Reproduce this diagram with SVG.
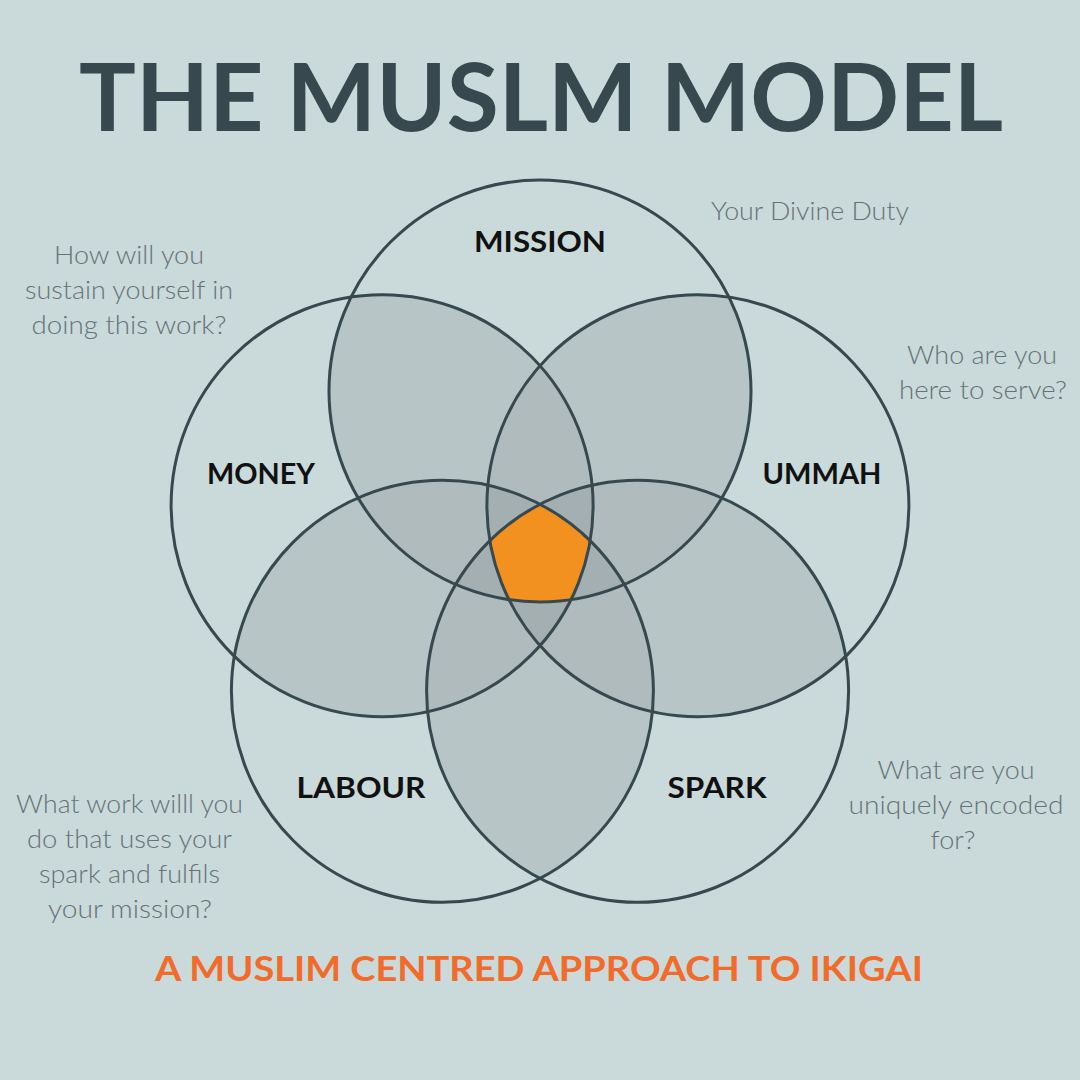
<svg xmlns="http://www.w3.org/2000/svg" xmlns:xlink="http://www.w3.org/1999/xlink" width="1080" height="1080" viewBox="0 0 1080 1080">
<style>
.ring{fill:none;stroke:#37494f;stroke-width:3}
.title{font-family:Lato,"Liberation Sans",sans-serif;font-weight:700;fill:#37494f}
.lbl{font-family:Lato,"Liberation Sans",sans-serif;font-weight:700;font-size:28px;fill:#111111;text-anchor:middle}
.q{font-family:Lato,"Liberation Sans",sans-serif;font-weight:300;font-size:25px;fill:#667376;text-anchor:middle}
.sub{font-family:Lato,"Liberation Sans",sans-serif;font-weight:700;font-size:35px;fill:#f26b2b;text-anchor:middle}
.c2{fill:#b8c5c6}.c3{fill:#afbbbc}.c4{fill:#a3afb0}.c5{fill:#f29120}
</style>
<defs>
<circle id="M" cx="540" cy="391" r="211"/>
<circle id="N" cx="382.1" cy="505.7" r="211"/>
<circle id="U" cx="697.9" cy="505.7" r="211"/>
<circle id="L" cx="442.4" cy="691.3" r="211"/>
<circle id="S" cx="637.6" cy="691.3" r="211"/>
<clipPath id="cM"><use xlink:href="#M"/></clipPath>
<clipPath id="cN"><use xlink:href="#N"/></clipPath>
<clipPath id="cU"><use xlink:href="#U"/></clipPath>
<clipPath id="cL"><use xlink:href="#L"/></clipPath>
<clipPath id="cS"><use xlink:href="#S"/></clipPath>
</defs>
<rect width="1080" height="1080" fill="#cad9da"/>
<g id="overlaps">
<g class="c2">
<g clip-path="url(#cM)"><use xlink:href="#N"/><use xlink:href="#U"/><use xlink:href="#L"/><use xlink:href="#S"/></g>
<g clip-path="url(#cN)"><use xlink:href="#U"/><use xlink:href="#L"/><use xlink:href="#S"/></g>
<g clip-path="url(#cU)"><use xlink:href="#L"/><use xlink:href="#S"/></g>
<g clip-path="url(#cL)"><use xlink:href="#S"/></g>
</g>
<g class="c3">
<g clip-path="url(#cM)"><g clip-path="url(#cN)"><use xlink:href="#U"/><use xlink:href="#L"/><use xlink:href="#S"/></g></g>
<g clip-path="url(#cM)"><g clip-path="url(#cU)"><use xlink:href="#L"/><use xlink:href="#S"/></g></g>
<g clip-path="url(#cM)"><g clip-path="url(#cL)"><use xlink:href="#S"/></g></g>
<g clip-path="url(#cN)"><g clip-path="url(#cU)"><use xlink:href="#L"/><use xlink:href="#S"/></g></g>
<g clip-path="url(#cN)"><g clip-path="url(#cL)"><use xlink:href="#S"/></g></g>
<g clip-path="url(#cU)"><g clip-path="url(#cL)"><use xlink:href="#S"/></g></g>
</g>
<g class="c4">
<g clip-path="url(#cM)"><g clip-path="url(#cN)"><g clip-path="url(#cU)"><use xlink:href="#L"/><use xlink:href="#S"/></g></g></g>
<g clip-path="url(#cM)"><g clip-path="url(#cN)"><g clip-path="url(#cL)"><use xlink:href="#S"/></g></g></g>
<g clip-path="url(#cM)"><g clip-path="url(#cU)"><g clip-path="url(#cL)"><use xlink:href="#S"/></g></g></g>
<g clip-path="url(#cN)"><g clip-path="url(#cU)"><g clip-path="url(#cL)"><use xlink:href="#S"/></g></g></g>
</g>
<g class="c5">
<g clip-path="url(#cM)"><g clip-path="url(#cN)"><g clip-path="url(#cU)"><g clip-path="url(#cL)"><use xlink:href="#S"/></g></g></g></g>
</g>
</g>
<text class="title" x="541" y="131" font-size="94" text-anchor="middle" textLength="924" lengthAdjust="spacingAndGlyphs">THE MUSLM MODEL</text>
<g id="mission">
<use xlink:href="#M" class="ring"/>
<text class="lbl" x="540" y="252" textLength="132" lengthAdjust="spacingAndGlyphs">MISSION</text>
<text class="q" x="810" y="220" textLength="198" lengthAdjust="spacingAndGlyphs">Your Divine Duty</text>
</g>
<g id="money">
<use xlink:href="#N" class="ring"/>
<text class="lbl" x="261" y="484" textLength="108" lengthAdjust="spacingAndGlyphs">MONEY</text>
<text class="q" x="129" y="264" textLength="150" lengthAdjust="spacingAndGlyphs">How will you</text>
<text class="q" x="129" y="299" textLength="208" lengthAdjust="spacingAndGlyphs">sustain yourself in</text>
<text class="q" x="129" y="334" textLength="195" lengthAdjust="spacingAndGlyphs">doing this work?</text>
</g>
<g id="ummah">
<use xlink:href="#U" class="ring"/>
<text class="lbl" x="822" y="484" textLength="119" lengthAdjust="spacingAndGlyphs">UMMAH</text>
<text class="q" x="982" y="364" textLength="150" lengthAdjust="spacingAndGlyphs">Who are you</text>
<text class="q" x="983" y="399" textLength="168" lengthAdjust="spacingAndGlyphs">here to serve?</text>
</g>
<g id="labour">
<use xlink:href="#L" class="ring"/>
<text class="lbl" x="361" y="798" textLength="129" lengthAdjust="spacingAndGlyphs">LABOUR</text>
<text class="q" x="129.5" y="813" textLength="227" lengthAdjust="spacingAndGlyphs">What work willl you</text>
<text class="q" x="129.5" y="848" textLength="205" lengthAdjust="spacingAndGlyphs">do that uses your</text>
<text class="q" x="129.5" y="883" textLength="181" lengthAdjust="spacingAndGlyphs">spark and fulfils</text>
<text class="q" x="130" y="918" textLength="164" lengthAdjust="spacingAndGlyphs">your mission?</text>
</g>
<g id="spark">
<use xlink:href="#S" class="ring"/>
<text class="lbl" x="717" y="798" textLength="99" lengthAdjust="spacingAndGlyphs">SPARK</text>
<text class="q" x="956" y="779" textLength="157" lengthAdjust="spacingAndGlyphs">What are you</text>
<text class="q" x="956" y="814" textLength="215" lengthAdjust="spacingAndGlyphs">uniquely encoded</text>
<text class="q" x="953" y="849" textLength="45" lengthAdjust="spacingAndGlyphs">for?</text>
</g>
<text class="sub" x="539" y="981" textLength="768" lengthAdjust="spacingAndGlyphs">A MUSLIM CENTRED APPROACH TO IKIGAI</text>
</svg>
